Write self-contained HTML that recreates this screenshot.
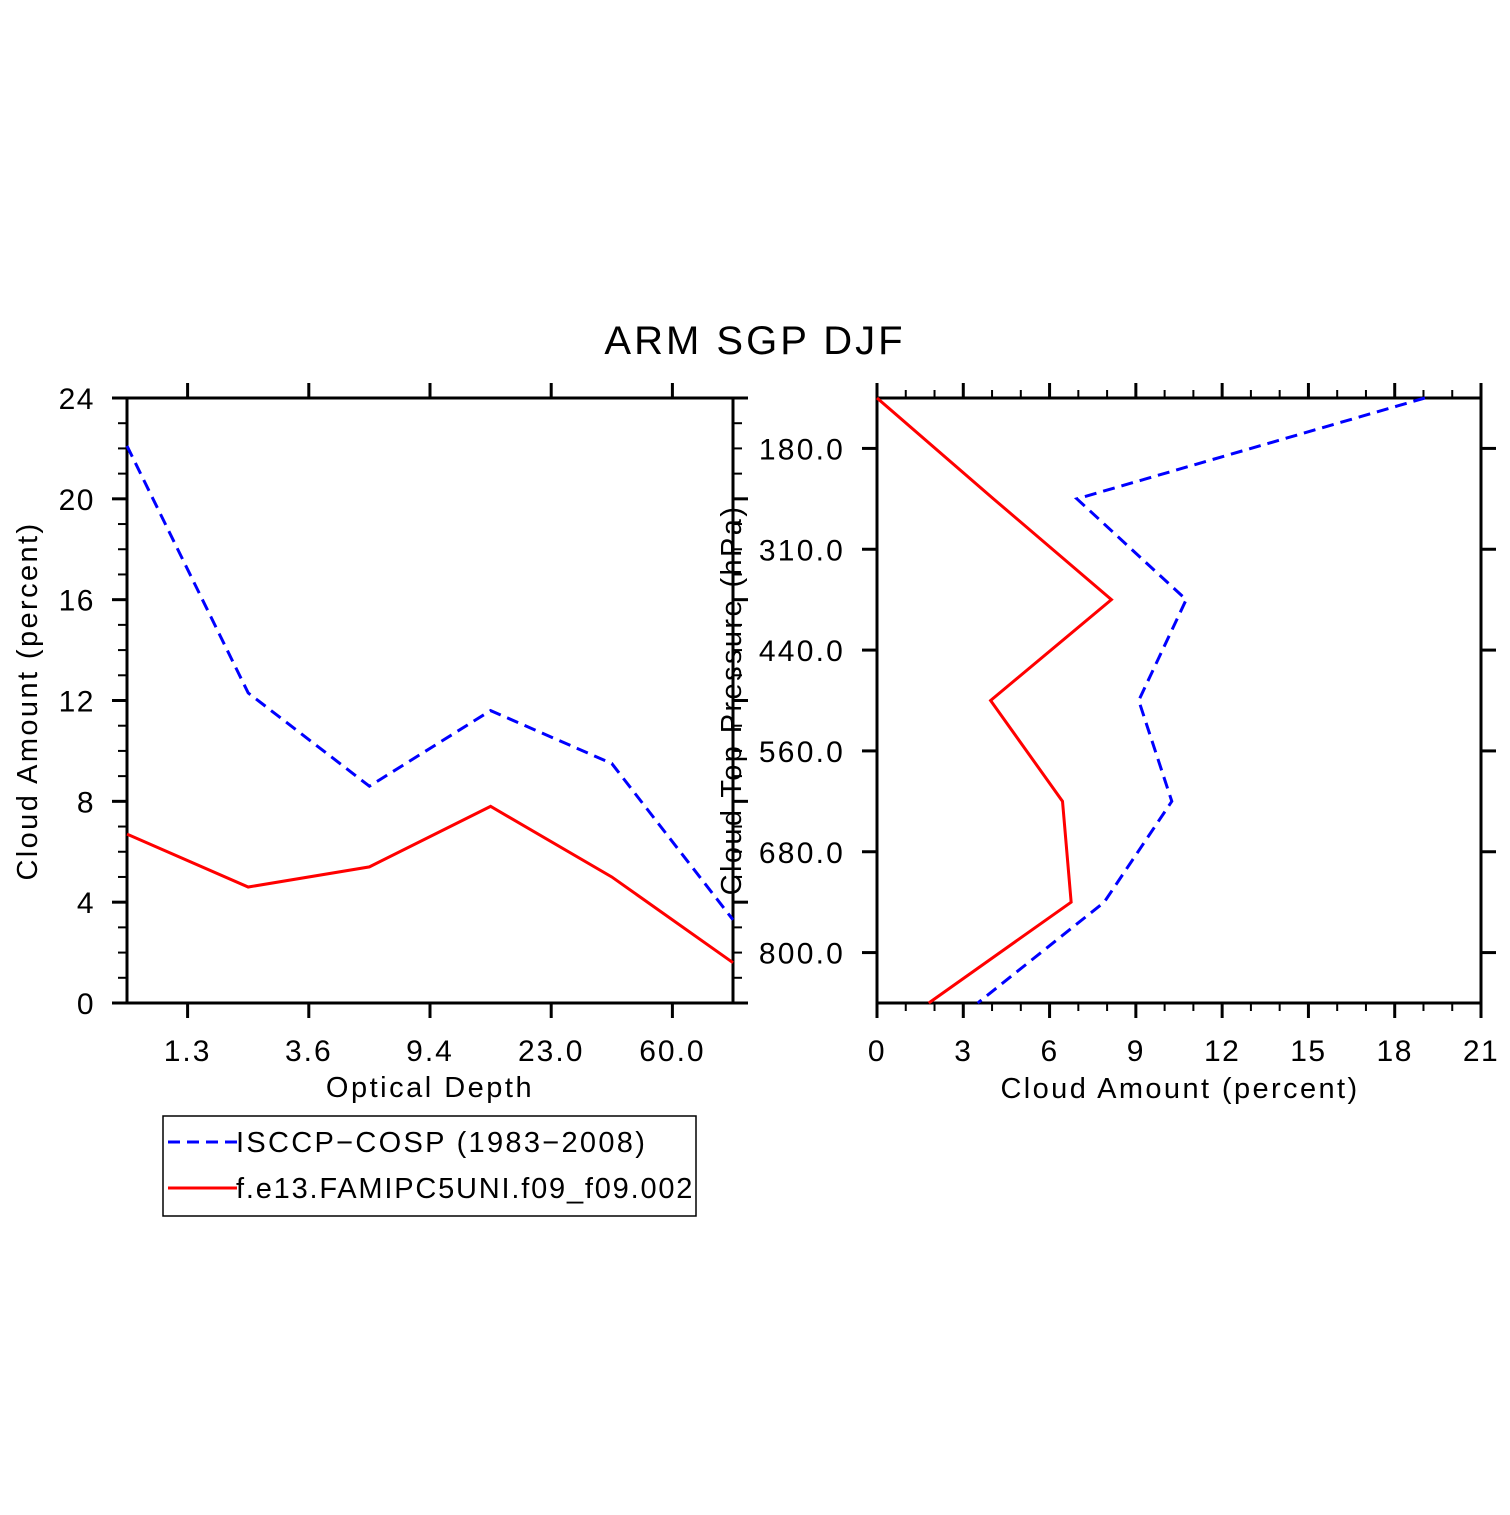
<!DOCTYPE html>
<html><head><meta charset="utf-8"><style>
html,body{margin:0;padding:0;background:#fff;}
svg text{font-family:"Liberation Sans",sans-serif;fill:#000;}
</style></head><body>
<svg id="chart" width="1510" height="1510" viewBox="0 0 1510 1510" xmlns="http://www.w3.org/2000/svg">
<rect x="0" y="0" width="1510" height="1510" fill="#fff"/>
<text x="755" y="354" font-size="40" text-anchor="middle" letter-spacing="3">ARM SGP DJF</text>
<g id="left"></g>
<g id="right"></g>
<g>
<rect x="163" y="1116" width="533" height="100" fill="none" stroke="#000" stroke-width="1.5"/>
<line x1="168" y1="1142" x2="237" y2="1142" stroke="#0000ff" stroke-width="3" stroke-dasharray="12,7"/>
<text x="236" y="1152" font-size="29" letter-spacing="2.3">ISCCP−COSP (1983−2008)</text>
<line x1="168" y1="1188" x2="237" y2="1188" stroke="#ff0000" stroke-width="3"/>
<text x="236" y="1198" font-size="29" letter-spacing="1.8">f.e13.FAMIPC5UNI.f09_f09.002</text>
</g>
</svg>
<script>
// Left panel data
const tauLabels = ["1.3","3.6","9.4","23.0","60.0"];
const isccpTau = [22.1, 12.3, 8.6, 11.6, 9.5, 3.3];
const modelTau = [6.7, 4.6, 5.4, 7.8, 5.0, 1.6];
const leftYTicks = [0,4,8,12,16,20,24];
// Right panel data
const pressLabels = ["180.0","310.0","440.0","560.0","680.0","800.0"];
const isccpPress = [19.05, 6.95, 10.75, 9.1, 10.25, 7.9, 3.5];
const modelPress = [0, 4.05, 8.15, 3.95, 6.45, 6.75, 1.8];
const rightXTicks = [0,3,6,9,12,15,18,21];

const NS = "http://www.w3.org/2000/svg";
function mk(parent, tag, attrs, text){
  const e = document.createElementNS(NS, tag);
  for (const k in attrs) e.setAttribute(k, attrs[k]);
  if (text !== undefined) e.textContent = text;
  parent.appendChild(e);
  return e;
}
const BLK = {stroke:"#000","stroke-width":3};

// ---------- Left panel ----------
const L = document.getElementById('left');
const lx0=127, lx1=733, ly0=1003, ly1=398;
const lxs = i => lx0 + i*(lx1-lx0)/(isccpTau.length-1);
const lys = v => ly0 - v*(ly0-ly1)/24;
let e;
e = mk(L,'line',Object.assign({x1:lx0,y1:ly1,x2:lx0,y2:ly0},BLK));
 
mk(L,'line',Object.assign({x1:lx1,y1:ly1,x2:lx1,y2:ly0},BLK));
mk(L,'line',Object.assign({x1:112,y1:ly1,x2:748,y2:ly1},BLK));
e = mk(L,'line',Object.assign({x1:112,y1:ly0,x2:748,y2:ly0},BLK));
 
for (let v=0; v<=24; v++){
  const y=lys(v), maj = v%4===0;
  mk(L,'line',{x1:lx0-(maj?15:9),y1:y,x2:lx0,y2:y,stroke:"#000","stroke-width":maj?3:2});
  mk(L,'line',{x1:lx1,y1:y,x2:lx1+(maj?15:9),y2:y,stroke:"#000","stroke-width":maj?3:2});
}
leftYTicks.forEach(v=>{
  const t = mk(L,'text',{x:95,y:lys(v)+11,"font-size":30,"text-anchor":"end","letter-spacing":1.5},String(v));
  
  
});
tauLabels.forEach((s,i)=>{
  const x=(lxs(i)+lxs(i+1))/2;
  mk(L,'line',{x1:x,y1:ly0,x2:x,y2:ly0+15,stroke:"#000","stroke-width":3});
  mk(L,'line',{x1:x,y1:ly1,x2:x,y2:ly1-15,stroke:"#000","stroke-width":3});
  const t = mk(L,'text',{x:x,y:1061,"font-size":30,"text-anchor":"middle","letter-spacing":2},s);
  
  
});
e = mk(L,'text',{x:430,y:1097,"font-size":29,"text-anchor":"middle","letter-spacing":2.5},"Optical Depth");
 
e = mk(L,'text',{x:0,y:0,"font-size":29,"text-anchor":"middle","letter-spacing":2.4,transform:"translate(37,701) rotate(-90)"},"Cloud Amount (percent)");
 
e = mk(L,'polyline',{points:isccpTau.map((v,i)=>lxs(i)+","+lys(v)).join(" "),fill:"none",stroke:"#0000ff","stroke-width":3,"stroke-dasharray":"12,7"});
 
e = mk(L,'polyline',{points:modelTau.map((v,i)=>lxs(i)+","+lys(v)).join(" "),fill:"none",stroke:"#ff0000","stroke-width":3});
 

// ---------- Right panel ----------
const R = document.getElementById('right');
const rx0=877, rx1=1481, ry0=398, ry1=1003;
const rxs = v => rx0 + v*(rx1-rx0)/21;
const rys = i => ry0 + i*(ry1-ry0)/(isccpPress.length-1);
e = mk(R,'line',Object.assign({x1:rx0,y1:383,x2:rx0,y2:1018},BLK));
 
mk(R,'line',Object.assign({x1:rx1,y1:383,x2:rx1,y2:1018},BLK));
mk(R,'line',Object.assign({x1:rx0,y1:ry0,x2:rx1,y2:ry0},BLK));
e = mk(R,'line',Object.assign({x1:rx0,y1:ry1,x2:rx1,y2:ry1},BLK));
 
for (let v=0; v<=21; v++){
  const x=rxs(v), maj=v%3===0;
  mk(R,'line',{x1:x,y1:ry0,x2:x,y2:ry0-(maj?15:8),stroke:"#000","stroke-width":maj?3:2});
  mk(R,'line',{x1:x,y1:ry1,x2:x,y2:ry1+(maj?15:8),stroke:"#000","stroke-width":maj?3:2});
}
rightXTicks.forEach(v=>{
  const t = mk(R,'text',{x:rxs(v),y:1061,"font-size":30,"text-anchor":"middle","letter-spacing":1.5},String(v));
  
  
});
pressLabels.forEach((s,i)=>{
  const y=(rys(i)+rys(i+1))/2;
  mk(R,'line',{x1:rx0-15,y1:y,x2:rx0,y2:y,stroke:"#000","stroke-width":3});
  mk(R,'line',{x1:rx1,y1:y,x2:rx1+15,y2:y,stroke:"#000","stroke-width":3});
  const t = mk(R,'text',{x:845,y:y+11,"font-size":30,"text-anchor":"end","letter-spacing":2.2},s);
  
  
});
e = mk(R,'text',{x:1180,y:1098,"font-size":29,"text-anchor":"middle","letter-spacing":2.4},"Cloud Amount (percent)");
 
e = mk(R,'text',{x:0,y:0,"font-size":29,"text-anchor":"middle","letter-spacing":2.4,transform:"translate(741,700) rotate(-90)"},"Cloud Top Pressure (hPa)");
 
e = mk(R,'polyline',{points:isccpPress.map((v,i)=>rxs(v)+","+rys(i)).join(" "),fill:"none",stroke:"#0000ff","stroke-width":3,"stroke-dasharray":"12,7"});
 
e = mk(R,'polyline',{points:modelPress.map((v,i)=>rxs(v)+","+rys(i)).join(" "),fill:"none",stroke:"#ff0000","stroke-width":3});
 
</script>
</body></html>
